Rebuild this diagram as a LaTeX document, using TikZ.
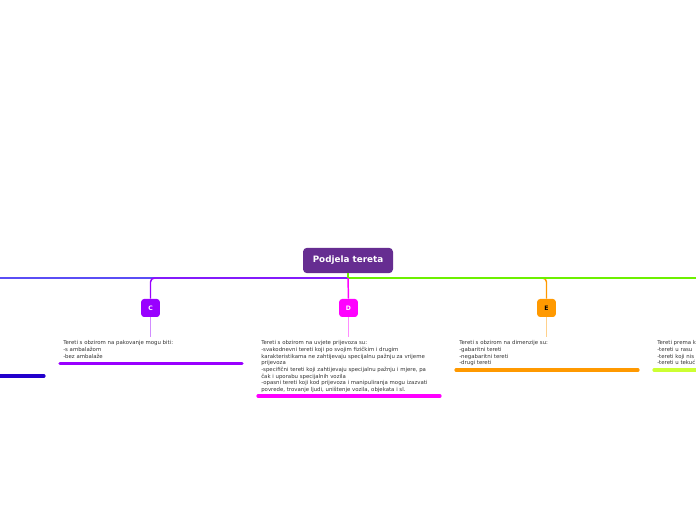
\documentclass[tikz,border=0pt]{standalone}
\usepackage{fontspec}
\setmainfont{DejaVu Sans}
\usetikzlibrary{positioning,calc}
\definecolor{rootpurple}{HTML}{662D91}
\definecolor{branchblue}{HTML}{5A4EF5}
\definecolor{branchviolet}{HTML}{9900FF}
\definecolor{branchmagenta}{HTML}{FF00FF}
\definecolor{branchorange}{HTML}{FF9900}
\definecolor{branchgreen}{HTML}{6CF000}
\definecolor{branchlime}{HTML}{CCFF33}
\definecolor{branchnavy}{HTML}{2200CC}
\definecolor{notegray}{HTML}{333333}

\begin{document}
\begin{tikzpicture}[x=0.75pt, y=-0.75pt,
  letterbox/.style={rounded corners=2.2pt, minimum width=14pt, minimum height=13.5pt,
    inner sep=0pt, font=\fontsize{4.6}{5}\selectfont\bfseries},
  notetext/.style={anchor=north west, inner sep=0pt, align=left, text=notegray,
    font=\fontsize{4.05}{5.0}\selectfont},
  mainline/.style={line width=1.1pt},
  stubline/.style={line width=0.7pt},
  underline/.style={line width=2.4pt, line cap=round}]
  %% Page frame
  \useasboundingbox (0,0) rectangle (696,520);
  \clip (0,0) rectangle (696,520);

  %% Central topic
  \node[fill=rootpurple, text=white, rounded corners=3pt, minimum width=67.5pt,
    minimum height=19pt, inner sep=0pt, font=\fontsize{6.6}{7}\selectfont\bfseries]
    (root) at (348,260.5) {Podjela tereta};
  \coordinate (hub) at (348,278);
  \coordinate (leftEnd) at (-20,278);
  \coordinate (rightEnd) at (720,278);

  %% Letter boxes
  \node[letterbox, fill=branchviolet, text=white] (boxC) at (150.5,308) {C};
  \node[letterbox, fill=branchmagenta, text=white] (boxD) at (348.5,308) {D};
  \node[letterbox, fill=branchorange, text=black] (boxE) at (546.5,308) {E};

  %% Main connectors
  \draw[mainline, branchblue] (hub) -- (leftEnd);
  \draw[mainline, branchorange, rounded corners=3pt] (hub) -| (boxE.north);
  \draw[mainline, branchgreen] (hub) -- (rightEnd);
  \draw[mainline, branchviolet, rounded corners=3pt] (hub) -| (boxC.north);
  \draw[mainline, branchmagenta] (hub) -- (boxD.north);
  \draw[mainline, branchgreen] (root.south) -- (hub);

  %% Stubs under the boxes
  \coordinate (stubC) at (150.5,337);
  \coordinate (stubD) at (348.5,337);
  \coordinate (stubE) at (546.5,337);
  \draw[stubline, branchviolet!45] (boxC.south) -- (stubC);
  \draw[stubline, branchmagenta!45] (boxD.south) -- (stubD);
  \draw[stubline, branchorange!45] (boxE.south) -- (stubE);

  %% Notes
  \node[notetext] (noteC) at (63,340.5)
    {Tereti s obzirom na pakovanje mogu biti:\\-s ambala\v{z}om\\-bez ambala\v{z}e};
  \node[notetext] (noteD) at (261,340.5)
    {Tereti s obzirom na uvjete prijevoza su:\\
     -svakodnevni tereti koji po svojim fizi\v{c}kim i drugim\\
     karakteristikama ne zahtijevaju specijalnu pa\v{z}nju za vrijeme\\
     prijevoza\\
     -specifi\v{c}ni tereti koji zahtijevaju specijalnu pa\v{z}nju i mjere, pa\\
     \v{c}ak i uporabu specijalnih vozila\\
     -opasni tereti koji kod prijevoza i manipuliranja mogu izazvati\\
     povrede, trovanje ljudi, uni\v{s}tenje vozila, objekata i sl.};
  \node[notetext] (noteE) at (459,340.5)
    {Tereti s obzirom na dimenzije su:\\-gabaritni tereti\\-negabaritni tereti\\-drugi tereti};
  \node[notetext] (noteF) at (657,340.5)
    {Tereti prema k\\-tereti u rasu\\-tereti koji nis\\-tereti u teku\'c};

  %% Underlines
  \draw[underline, branchviolet] (60,363.5) -- (242,363.5);
  \draw[underline, branchmagenta] (258,396) -- (440,396);
  \draw[underline, branchorange] (456,370) -- (638,370);
  \draw[underline, branchlime] (654,370) -- (710,370);
  \draw[underline, branchnavy] (-20,376) -- (44,376);
\end{tikzpicture}
\end{document}
